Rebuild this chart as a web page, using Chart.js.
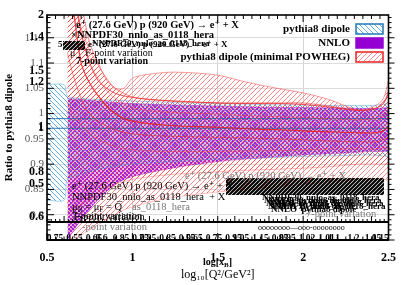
<!DOCTYPE html>
<html><head><meta charset="utf-8">
<script src="https://cdn.jsdelivr.net/npm/chart.js@4.4.1/dist/chart.umd.min.js"></script>
<style>html,body{margin:0;padding:0;background:#fff;overflow:hidden}</style>
</head><body>
<canvas id="c" width="407" height="285"></canvas>
<script>
// ---------- data ----------
const xTicks = [0.5, 1, 1.5, 2, 2.5];
const yTicks = [0.8, 0.85, 0.9, 0.95, 1, 1.05, 1.1, 1.15];
const y2Ticks = [0.5, 1, 1.5, 2];
const y3Ticks = [0.6, 0.8, 1, 1.2, 1.4];

const blueX  = [0.5, 0.6, 0.62, 0.7, 0.8, 1.0, 1.25, 1.5, 1.75, 2.0, 2.25, 2.4, 2.5];
const blueUp = [1.057, 1.057, 1.035, 1.03, 1.028, 1.025, 1.022, 1.02, 1.018, 1.017, 1.016, 1.016, 1.02];
const blueLo = [0.829, 0.829, 0.87, 0.88, 0.89, 0.9, 0.905, 0.91, 0.912, 0.915, 0.917, 0.918, 0.915];
const blueMid = [0.99, 0.99, 0.99, 0.99, 0.99, 0.99, 0.99, 0.99, 0.99, 0.99, 0.99, 0.99, 0.99];
const blueMid2 = [0.971, 0.971, 0.971, 0.971, 0.971, 0.971, 0.971, 0.971, 0.971, 0.971, 0.971, 0.971, 0.971];

const nnloX  = [0.62, 0.7, 0.8, 0.9, 1.0, 1.25, 1.5, 1.75, 2.0, 2.25, 2.4, 2.5];
const nnloUp = [1.03, 1.028, 1.025, 1.022, 1.02, 1.017, 1.015, 1.013, 1.012, 1.011, 1.01, 1.012];
const nnloLo = [0.75, 0.79, 0.83, 0.86, 0.875, 0.893, 0.905, 0.912, 0.918, 0.922, 0.925, 0.925];

const redX = [0.62, 0.65, 0.7, 0.75, 0.8, 0.85, 0.9, 0.95, 1.0, 1.1, 1.25, 1.5, 1.67, 1.85, 2.0, 2.15, 2.33, 2.42, 2.47, 2.5];
const redOuterUp = [1.3, 1.25, 1.17, 1.125, 1.095, 1.07, 1.05, 1.05, 1.07, 1.078, 1.082, 1.076, 1.062, 1.05, 1.041, 1.028, 1.007, 1.015, 1.03, 1.066];
const redOuterLo = [0.75, 0.75, 0.76, 0.77, 0.78, 0.79, 0.80, 0.81, 0.815, 0.825, 0.835, 0.845, 0.85, 0.855, 0.86, 0.865, 0.87, 0.87, 0.87, 0.87];
const redMidUp = [1.3, 1.3, 1.22, 1.14, 1.1, 1.066, 1.05, 1.04, 1.033, 1.028, 1.024, 1.021, 1.021, 1.021, 1.021, 1.015, 1.007, 1.01, 1.02, 1.045];
const redMidLo = [0.8, 0.81, 0.82, 0.83, 0.84, 0.85, 0.86, 0.865, 0.87, 0.875, 0.88, 0.885, 0.888, 0.89, 0.892, 0.895, 0.9, 0.9, 0.9, 0.9];
const redInnerUp = [1.3, 1.28, 1.16, 1.1, 1.07, 1.045, 1.03, 1.02, 1.012, 1.006, 1.002, 0.999, 0.996, 0.994, 0.992, 0.99, 0.988, 0.99, 0.998, 1.01];
const redInnerLo = [1.02, 1.0, 0.98, 0.96, 0.95, 0.94, 0.935, 0.93, 0.928, 0.926, 0.925, 0.925, 0.926, 0.927, 0.928, 0.93, 0.93, 0.93, 0.932, 0.935];
const redCentral = [1.3, 1.22, 1.1, 1.06, 1.035, 1.015, 1.0, 0.99, 0.985, 0.98, 0.976, 0.973, 0.97, 0.968, 0.966, 0.964, 0.962, 0.962, 0.966, 0.975];
const redLineB = [1.3, 1.25, 1.16, 1.1, 1.065, 1.05, 1.04, 1.035, 1.032, 1.028, 1.025, 1.021, 1.02, 1.02, 1.018, 1.013, 1.006, 1.01, 1.02, 1.04];
const redLineD = [1.12, 1.08, 1.03, 1.0, 0.985, 0.975, 0.968, 0.963, 0.96, 0.957, 0.955, 0.953, 0.952, 0.95, 0.948, 0.946, 0.944, 0.944, 0.948, 0.955];

const legendLabels = ['pythia8 dipole', 'NNLO', 'pythia8 dipole (minimal POWHEG)'];
const procText = 'e\u207A (27.6 GeV) p (920 GeV) \u2192 e\u207A + X';
const pdfText = 'NNPDF30_nnlo_as_0118_hera';
const varText = '7-point variation';
const junkLabels = ['0.75','0.55','0.65','0.6','0.85','0.75','0.95','0.85','0.55','0.65','0.75','0.95','1.05','1.15','0.85','0.95','1.02','1.01','1.1','1.2','1.05','1.15'];

// ---------- styles ----------
function hatch(color, lw, size, dir) {
  const c = document.createElement('canvas'); c.width = c.height = size;
  const g = c.getContext('2d'); g.strokeStyle = color; g.lineWidth = lw; g.beginPath();
  if (dir > 0) {
    g.moveTo(0, size); g.lineTo(size, 0);
    g.moveTo(-1, 1); g.lineTo(1, -1);
    g.moveTo(size - 1, size + 1); g.lineTo(size + 1, size - 1);
  } else {
    g.moveTo(0, 0); g.lineTo(size, size);
    g.moveTo(-1, size - 1); g.lineTo(1, size + 1);
    g.moveTo(size - 1, -1); g.lineTo(size + 1, 1);
  }
  g.stroke();
  return document.createElement('canvas').getContext('2d').createPattern(c, 'repeat');
}
function checker(bg, fg) {
  const c = document.createElement('canvas'); c.width = c.height = 4;
  const g = c.getContext('2d');
  g.fillStyle = bg; g.fillRect(0, 0, 4, 4);
  g.fillStyle = fg; g.fillRect(0, 0, 2, 2); g.fillRect(2, 2, 2, 2);
  return document.createElement('canvas').getContext('2d').createPattern(c, 'repeat');
}
const bluePat = hatch('rgba(70,160,220,0.85)', 1, 5, -1);
const redPat = hatch('rgba(255,60,60,0.6)', 1, 5, 1);
const purplePat = checker('rgba(215,120,235,0.55)', 'rgba(140,0,215,0.8)');
const blackPat = hatch('#000', 2.2, 4, 1);

const pts = (xs, ys) => xs.map((x, i) => ({x: x, y: ys[i]}));
const line = (xs, ys, color, w, fill, bg) => ({
  data: pts(xs, ys), borderColor: color, borderWidth: w, pointRadius: 0,
  tension: 0.3, fill: fill, backgroundColor: bg || 'transparent'
});

const datasets = [
  line(redX, redCentral, 'rgba(230,30,30,0.85)', 1.2, false),
  line(redX, redLineB, 'rgba(235,40,40,0.75)', 1, false),
  line(redX, redLineD, 'rgba(235,40,40,0.6)', 0.9, false),
  line(redX, redInnerLo, 'rgba(255,60,60,0.5)', 0.8, false),
  line(redX, redInnerUp, 'rgba(255,60,60,0.5)', 0.8, '-1', redPat),
  line(redX, redMidLo, 'rgba(255,60,60,0.45)', 0.8, false),
  line(redX, redMidUp, 'rgba(255,60,60,0.6)', 1, '-1', redPat),
  line(redX, redOuterLo, 'rgba(255,60,60,0.4)', 0.8, false),
  line(redX, redOuterUp, 'rgba(255,60,60,0.55)', 0.9, '-1', redPat),
  line(blueX, blueMid, 'rgba(20,100,170,0.9)', 1, false),
  line(blueX, blueMid2, 'rgba(20,100,170,0.9)', 1, false),
  line(blueX, blueLo, 'rgba(70,160,220,0.6)', 0.8, false),
  line(blueX, blueUp, 'rgba(70,160,220,0.6)', 0.8, '-1', bluePat),
  line(nnloX, nnloLo, 'rgba(150,0,215,0.4)', 0.8, false),
  line(nnloX, nnloUp, 'rgba(150,0,215,0.5)', 0.8, '-1', purplePat)
];

const legendItems = [
  {label: legendLabels[0], fill: bluePat, stroke: '#1f78b4'},
  {label: legendLabels[1], fill: '#9400d3', stroke: '#9400d3'},
  {label: legendLabels[2], fill: redPat, stroke: '#ee2222'}
];

const SERIF = '"Liberation Serif", "DejaVu Serif", serif';

function drawSeg(ctx, x, y, parts, size, weight) {
  let cx = x;
  for (const [t, sub] of parts) {
    const s = sub ? size * 0.7 : size;
    ctx.font = weight + ' ' + s + 'px ' + SERIF;
    ctx.fillText(t, cx, y + (sub ? size * 0.3 : 0));
    cx += ctx.measureText(t).width;
  }
}

const decor = {
  id: 'decor',
  afterDraw(chart) {
    const ctx = chart.ctx, a = chart.chartArea;
    const xs = chart.scales.x, ys = chart.scales.y;
    ctx.save();
    // thick secondary axis line with dense ticks
    ctx.strokeStyle = '#000'; ctx.lineWidth = 2;
    ctx.beginPath(); ctx.moveTo(a.left, 222); ctx.lineTo(a.right, 222); ctx.stroke();
    ctx.lineWidth = 1; ctx.beginPath();
    for (let v = 0.5; v <= 2.5001; v += 0.025) {
      const px = xs.getPixelForValue(v);
      const L = (Math.round(v * 40) % 4 === 0) ? 6 : 3;
      ctx.moveTo(px, 222); ctx.lineTo(px, 222 - L);
    }
    ctx.stroke();
    // frame
    ctx.lineWidth = 1.6;
    ctx.strokeRect(a.left, a.top, a.right - a.left, a.bottom - a.top);
    ctx.lineWidth = 2.2;
    ctx.beginPath(); ctx.moveTo(a.left, a.bottom); ctx.lineTo(a.right, a.bottom); ctx.stroke();
    // ticks x
    ctx.lineWidth = 1; ctx.beginPath();
    for (let v = 0.5; v <= 2.5001; v += 0.05) {
      const px = xs.getPixelForValue(v);
      const major = Math.abs(v * 2 - Math.round(v * 2)) < 1e-6;
      const L = major ? 7 : 3.5;
      ctx.moveTo(px, a.bottom); ctx.lineTo(px, a.bottom - L);
      ctx.moveTo(px, a.top); ctx.lineTo(px, a.top + (major ? 7 : 4));
    }
    // ticks y
    for (let v = 0.75; v <= 1.195; v += 0.01) {
      const py = ys.getPixelForValue(v);
      const major = Math.abs(v * 20 - Math.round(v * 20)) < 1e-6;
      ctx.moveTo(a.left, py); ctx.lineTo(a.left + (major ? 7 : 3.5), py);
      ctx.moveTo(a.right, py); ctx.lineTo(a.right + (major ? 6 : 3), py);
    }
    ctx.stroke();

    // bold tick labels of the overlaid secondary scales
    ctx.fillStyle = '#000'; ctx.textBaseline = 'middle'; ctx.textAlign = 'right';
    ctx.font = 'bold 12px ' + SERIF;
    for (const id of ['y2', 'y3']) {
      const sc = chart.scales[id];
      for (const t of sc.ticks) ctx.fillText(fmt(t.value), a.left - 3, sc.getPixelForValue(t.value));
    }

    ctx.textAlign = 'left';
    // top text block
    ctx.font = 'bold 10.5px ' + SERIF;
    ctx.fillText(procText, 76, 25);
    ctx.fillText('\u00D7' + pdfText, 71, 35);
    ctx.fillStyle = blackPat; ctx.fillRect(63, 41, 22, 9);
    ctx.fillStyle = '#000';
    ctx.font = 'bold 9px ' + SERIF;
    ctx.fillText('5', 58, 45);
    ctx.fillText(procText, 88, 45);
    ctx.fillText(pdfText, 92, 44);
    ctx.font = '10px ' + SERIF;
    ctx.fillText('\u03BC' + '    ' + 'F-point variation', 70, 53);
    ctx.font = 'bold 10px ' + SERIF;
    ctx.fillText(varText, 76, 61);

    // lower text block
    ctx.fillStyle = blackPat; ctx.fillRect(226, 178, 158, 17);
    ctx.fillStyle = '#000';
    ctx.font = '10.5px ' + SERIF;
    ctx.fillText(procText, 72, 186);
    ctx.fillText(pdfText + '  + X', 72, 197);
    drawSeg(ctx, 72, 207, [['\u03BC', 0], ['R', 1], [' = \u03BC', 0], ['F', 1], [' = Q', 0]], 10.5, 'normal');
    ctx.fillText(varText, 72, 216);
    ctx.fillText('F-point variation', 74, 217);
    ctx.fillStyle = '#777';
    ctx.fillText('as_0118_hera', 132, 207);
    ctx.fillText('-point variation', 82, 227);
    ctx.fillText(varText, 306, 214);
    ctx.fillText(procText, 185, 176);
    ctx.fillStyle = '#000';
    ctx.font = 'bold 9px ' + SERIF;
    for (let i = 0; i < 4; i++) {
      ctx.fillText(pdfText, 262 + i * 2, 198 + i * 3);
      ctx.fillText('NNLO  pythia8 dipole', 268 + i, 201 + i * 3);
    }
    ctx.font = '8px ' + SERIF;
    ctx.fillText('oooooooo\u2014ooo-oooooooo', 258, 228);

    // overlapping junk tick labels on bottom line
    ctx.font = 'bold 9.5px ' + SERIF;
    ctx.textAlign = 'center';
    for (let i = 0; i < junkLabels.length; i++) {
      const px = a.left + 8 + i * 15.5 + (i % 3) * 4;
      ctx.fillText(junkLabels[i], px, a.bottom - 1);
    }

    // x sub-label
    ctx.textAlign = 'left';
    drawSeg(ctx, 203, 262, [['log[x', 0], ['B', 1], [']', 0]], 10, 'bold');

    // legend
    ctx.textAlign = 'right';
    ctx.font = 'bold 11px ' + SERIF;
    legendItems.forEach((it, i) => {
      const cy = 29 + i * 14;
      ctx.fillStyle = '#000';
      ctx.fillText(it.label, 350, cy);
      ctx.fillStyle = '#fff'; ctx.fillRect(356, cy - 5, 27, 10);
      ctx.fillStyle = it.fill; ctx.fillRect(356, cy - 5, 27, 10);
      ctx.strokeStyle = it.stroke; ctx.lineWidth = 1.5; ctx.strokeRect(356, cy - 5, 27, 10);
    });
    ctx.restore();
  }
};

const fmt = v => String(+(+v).toFixed(2));
const tickSet = arr => (s => { s.ticks = arr.map(v => ({value: v})); });

new Chart(document.getElementById('c'), {
  type: 'line',
  data: {datasets: datasets},
  plugins: [decor],
  options: {
    responsive: false, animation: false, devicePixelRatio: 1,
    layout: {padding: {left: 0, right: 16, top: 15, bottom: 0}},
    plugins: {legend: {display: false}, tooltip: {enabled: false}},
    scales: {
      x: {
        type: 'linear', min: 0.5, max: 2.5,
        afterBuildTicks: tickSet(xTicks),
        ticks: {callback: fmt, color: '#000', padding: 11, maxRotation: 0,
                font: {family: SERIF, size: 12, weight: 'bold'}},
        grid: {color: '#d4d4d4', drawTicks: false},
        border: {display: false},
        title: {display: true, text: 'log\u2081\u2080[Q\u00B2/GeV\u00B2]', color: '#000',
                font: {family: SERIF, size: 12}, padding: {top: 0, bottom: 3}},
        afterFit: s => { s.height = 45; }
      },
      y: {
        type: 'linear', min: 0.75, max: 1.195, weight: 0,
        afterBuildTicks: tickSet(yTicks),
        ticks: {callback: fmt, color: '#555', padding: 3,
                font: {family: SERIF, size: 11}},
        grid: {color: '#dcdcdc', drawTicks: false},
        border: {display: false},
        title: {display: true, text: 'Ratio to pythia8 dipole', color: '#000',
                font: {family: SERIF, size: 11, weight: 'bold'}, padding: {top: 3, bottom: 0}},
        afterFit: s => { s.width = 47; }
      },
      y2: {
        type: 'linear', position: 'left', min: 0, max: 2, display: false,
        afterBuildTicks: tickSet(y2Ticks)
      },
      y3: {
        type: 'linear', position: 'left', min: 0.498, max: 1.498, display: false,
        afterBuildTicks: tickSet(y3Ticks)
      }
    }
  }
});
</script>
</body></html>
